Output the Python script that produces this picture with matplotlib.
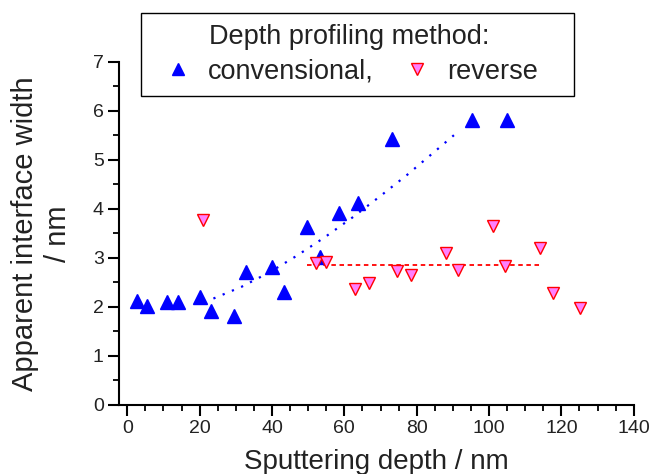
import matplotlib.pyplot as plt
from matplotlib.patches import Rectangle

plt.rcParams["font.family"] = ["Liberation Sans", "DejaVu Sans"]

# conventional depth profiling
conv_depth = [2.8, 5.5, 11.0, 13.9, 20.1, 23.2, 29.5, 32.8, 40.0, 43.3,
              49.6, 53.4, 58.6, 63.8, 73.1, 95.3, 105.0]
conv_width = [2.12, 2.02, 2.1, 2.1, 2.21, 1.92, 1.81, 2.72, 2.82, 2.31,
              3.62, 3.02, 3.92, 4.12, 5.42, 5.82, 5.82]

# reverse depth profiling
rev_depth = [21.0, 52.1, 55.0, 62.9, 66.7, 74.5, 78.4, 88.2, 91.4, 101.1,
             104.5, 114.1, 117.6, 125.2]
rev_width = [3.77, 2.89, 2.92, 2.36, 2.49, 2.73, 2.66, 3.09, 2.75, 3.64,
             2.84, 3.21, 2.28, 1.98]

# guide curves
conv_fit_x = [23.8, 31.6, 39.2, 46.8, 54.4, 62.2, 69.8, 77.5, 85.2, 90.3]
conv_fit_y = [2.17, 2.41, 2.70, 3.04, 3.41, 3.82, 4.25, 4.70, 5.18, 5.50]
rev_fit_x = [49.6, 114.7]
rev_fit_y = [2.86, 2.86]

fig = plt.figure(figsize=(6.51, 4.74), dpi=100)
ax = fig.add_axes([0.1828, 0.1456, 0.7906, 0.7244])

ax.plot(conv_fit_x, conv_fit_y, color="blue", linestyle=(0, (1, 3.5)), lw=1.6)
ax.plot(rev_fit_x, rev_fit_y, color="red", linestyle=(0, (2.5, 2)), lw=1.3)

ax.plot(conv_depth, conv_width, "^", color="blue", mec="blue", ms=9.5,
        label="convensional,")
ax.plot(rev_depth, rev_width, "v", color="#ff80ff", mec="red", mew=1.0, ms=9,
        label="reverse")

ax.set_xlim(-2.3, 140)
ax.set_ylim(0, 7)
ax.set_xticks(range(0, 141, 20))
ax.set_xticks(range(0, 141, 5), minor=True)
ax.set_yticks(range(0, 8))
ax.set_yticks([i + 0.5 for i in range(7)], minor=True)

for s in ["top", "right"]:
    ax.spines[s].set_visible(False)
for s in ["left", "bottom"]:
    ax.spines[s].set_linewidth(1.5)

ax.tick_params(which="major", direction="out", length=8, width=1.5,
               labelsize=14, colors="black", labelcolor="#222222", pad=3)
ax.tick_params(which="minor", direction="out", length=4.5, width=1.3)

ax.set_xlabel("Sputtering depth / nm", fontsize=20, color="#222222", labelpad=8.5)
ax.set_ylabel("Apparent interface width\n/ nm", fontsize=21, color="#222222",
              labelpad=15, linespacing=1.2)

# legend box drawn by hand so its size matches the original
box = Rectangle((0.216, 0.798), 0.666, 0.174, transform=fig.transFigure,
                facecolor="white", edgecolor="black", lw=1.0, zorder=4)
fig.add_artist(box)

handles, labels = ax.get_legend_handles_labels()
leg = fig.legend(handles, labels, loc="center", bbox_to_anchor=(0.537, 0.885),
                 ncol=2, fontsize=19.5, title="Depth profiling method:",
                 title_fontsize=19.5, frameon=False,
                 handlelength=1.2, handletextpad=0.5, columnspacing=1.0,
                 borderpad=0.0, labelspacing=0.3, markerscale=0.95)
for t in leg.get_texts():
    t.set_color("#222222")
leg.get_title().set_color("#222222")

fig.savefig("out.png", dpi=100)
